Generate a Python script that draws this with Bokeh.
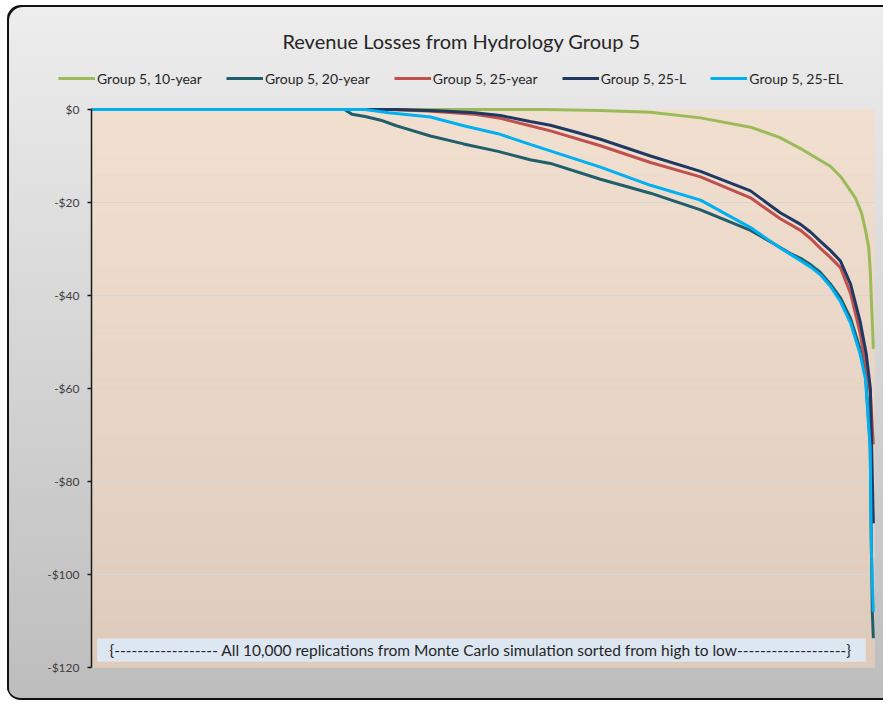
import numpy as np
from bokeh.plotting import figure
from bokeh.models import Range1d, Legend, LegendItem, Label, BoxAnnotation, FixedTicker
from bokeh.embed import file_html
from bokeh.resources import INLINE

# ---------------- data ----------------
title_text = "Revenue Losses from Hydrology Group 5"
note_text = ("{------------------ All 10,000 replications from Monte Carlo simulation "
             "sorted from high to low-------------------}")

series_names = ["Group 5, 10-year", "Group 5, 20-year", "Group 5, 25-year",
                "Group 5, 25-L", "Group 5, 25-EL"]

# replication rank (sorted high to low) and revenue loss in $
g10_idx = [0, 5800, 6500, 7150, 7790, 8430, 8800, 9070, 9250, 9450, 9580, 9660, 9770, 9850, 9900,
           9940, 9962, 9975, 9990, 10000]
g10_val = [0, 0, -0.2, -0.6, -1.8, -3.8, -6.0, -8.4, -10.2, -12.2, -14.4, -16.3, -19.0, -22.3, -26.0,
           -29.5, -35.0, -41.0, -47.0, -51.5]

g20_idx = [0, 3240, 3280, 3330, 3500, 3700, 3900, 4000, 4335, 4760, 5200, 5610, 5870, 6510, 7150,
           7790, 8430, 8700, 8940, 9070, 9200, 9320, 9450, 9580, 9710, 9830, 9900, 9960, 9975, 9987, 10000]
g20_val = [0, 0, -0.5, -1.0, -1.5, -2.3, -3.5, -4.0, -5.7, -7.4, -9.0, -10.8, -11.6, -15.0, -18.0,
           -21.6, -26.0, -28.6, -31.0, -32.0, -33.4, -35.0, -37.5, -40.5, -45.0, -51.5, -57.0, -72.0,
           -94.0, -108.0, -113.7]

g25_idx = [0, 3800, 4300, 4900, 5230, 5610, 5870, 6510, 7150, 7790, 8430, 8810, 9070, 9200, 9320, 9450,
           9580, 9710, 9830, 9910, 9962, 10000]
g25_val = [0, 0, -0.3, -1.0, -1.9, -3.5, -4.6, -7.8, -11.4, -14.5, -19.0, -23.5, -26.0, -27.8, -29.8,
           -31.8, -34.0, -39.6, -48.0, -55.5, -61.0, -72.0]

g25l_idx = [0, 3900, 4500, 4900, 5230, 5610, 5870, 6200, 6510, 7150, 7790, 8430, 8810, 9070, 9200, 9320,
            9450, 9580, 9710, 9830, 9910, 9962, 10000]
g25l_val = [0, 0, -0.3, -0.7, -1.3, -2.6, -3.4, -4.9, -6.4, -10.0, -13.3, -17.5, -22.2, -24.7, -26.4,
            -28.3, -30.3, -32.6, -37.6, -45.5, -52.6, -60.0, -89.0]

g25el_idx = [0, 3500, 3800, 4335, 4760, 5200, 5610, 6510, 7150, 7790, 8430, 8810, 9070, 9200, 9320,
             9450, 9580, 9710, 9830, 9900, 9960, 9975, 10000]
g25el_val = [0, 0, -0.7, -1.6, -3.5, -5.2, -7.5, -12.4, -16.3, -19.5, -25.4, -29.8, -32.5, -33.9, -35.5,
             -38.0, -41.3, -46.0, -52.5, -58.0, -73.0, -95.0, -108.0]

y_ticks = [-120, -100, -80, -60, -40, -20, 0]
y_tick_labels = ["-$120", "-$100", "-$80", "-$60", "-$40", "-$20", "$0"]

N_REPS = 10000
Y_MIN, Y_MAX = -120, 0

# ---------------- figure ----------------
# frame covers the whole canvas; plot area is [0, N] x [-120, 0] inside it
W, H = 876, 695
X_END = N_REPS + 15
PX_X = 783.0 / X_END               # px per replication
PX_Y = 4.65                        # px per $
left_px, right_px = 84, 9          # plot area offsets inside the canvas
top_px, bot_px = 104, 33
x_range = Range1d(-left_px / PX_X, X_END + right_px / PX_X)
y_range = Range1d(Y_MIN - bot_px / PX_Y, Y_MAX + top_px / PX_Y)

p = figure(width=W, height=H, x_range=x_range, y_range=y_range,
           output_backend="svg", toolbar_location=None, x_axis_location=None,
           min_border_left=0, min_border_right=0, min_border_top=0, min_border_bottom=0)
p.title.visible = False
p.margin = (5, 0, 0, 7)
p.border_fill_alpha = 0
p.background_fill_alpha = 0
p.outline_line_color = None
p.styles = {
    "background": "linear-gradient(to bottom, #ededed 0%, #bdbdbd 100%)",
    "border-radius": "14px 0 0 14px",
    "box-shadow": "inset 2px 2px 0 0 #111111, inset 0 -2px 0 0 #111111",
}

# plot-area vertical gradient (decoration), drawn as thin horizontal bands
n_bands = 60
edges = np.linspace(Y_MIN, Y_MAX, n_bands + 1)
top_c = np.array([241, 223, 208], dtype=float)
bot_c = np.array([223, 203, 187], dtype=float)
tt = (np.arange(n_bands) + 0.5) / n_bands
band_colors = ["#%02x%02x%02x" % tuple(int(round(v)) for v in (bot_c * (1 - s) + top_c * s)) for s in tt]
p.quad(left=0, right=X_END, bottom=edges[:-1], top=edges[1:], fill_color=band_colors,
       line_color=band_colors, line_width=0.6, level="image")

# horizontal gridlines only across the plot area
p.xgrid.grid_line_color = None
p.ygrid.grid_line_color = None
grid_ticks = [v for v in y_ticks if v not in (Y_MIN, Y_MAX)]
p.segment(x0=[0] * len(grid_ticks), x1=[X_END] * len(grid_ticks), y0=grid_ticks, y1=grid_ticks,
          line_color="#d9d5d2", line_width=1, level="underlay")

ax = p.yaxis[0]
ax.fixed_location = 0
ax.bounds = (Y_MIN, Y_MAX)
ax.ticker = FixedTicker(ticks=y_ticks)
ax.major_label_overrides = dict(zip(y_ticks, y_tick_labels))
ax.axis_line_color = "#1a1a1a"
ax.axis_line_width = 1.5
ax.major_tick_line_color = "#1a1a1a"
ax.major_tick_line_width = 1.5
ax.major_tick_out = 4
ax.major_tick_in = 0
ax.minor_tick_line_color = None
ax.major_label_standoff = 8
ax.major_label_text_font = "Lato"
ax.major_label_text_font_size = "12px"
ax.major_label_text_color = "#404040"

colors = ["#9bbb59", "#215e6b", "#c0504d", "#1f3864", "#00b0f0"]
data = [(g10_idx, g10_val), (g20_idx, g20_val), (g25_idx, g25_val),
        (g25l_idx, g25l_val), (g25el_idx, g25el_val)]
items = []
for name, (xs, ys), c in zip(series_names, data, colors):
    r = p.line(xs, ys, line_color=c, line_width=3)
    items.append(LegendItem(label=name, renderers=[r]))

legend = Legend(items=items, orientation="horizontal", location=(51, 612),
                background_fill_alpha=0, border_line_alpha=0, padding=0, margin=0,
                spacing=24, glyph_width=37, glyph_height=20, label_height=20,
                label_standoff=2, label_text_font="Lato", label_text_font_size="14px",
                label_text_color="#262626")
p.add_layout(legend)

p.add_layout(Label(x=454, y=660, x_units="screen", y_units="screen", text=title_text,
                   text_align="center", text_baseline="middle", text_font="Lato",
                   text_font_size="20px", text_color="#262626"))

p.add_layout(BoxAnnotation(left=77, right=9900, bottom=-118.7, top=-113.8,
                           fill_color="#dde7f2", fill_alpha=1, line_color="#eef3f9", line_width=1))
p.add_layout(Label(x=4976, y=-116.3, text=note_text, text_align="center", text_baseline="middle",
                   text_font="Lato", text_font_size="15.5px", text_color="#262626"))

open("out.html", "w").write(file_html(p, INLINE))
